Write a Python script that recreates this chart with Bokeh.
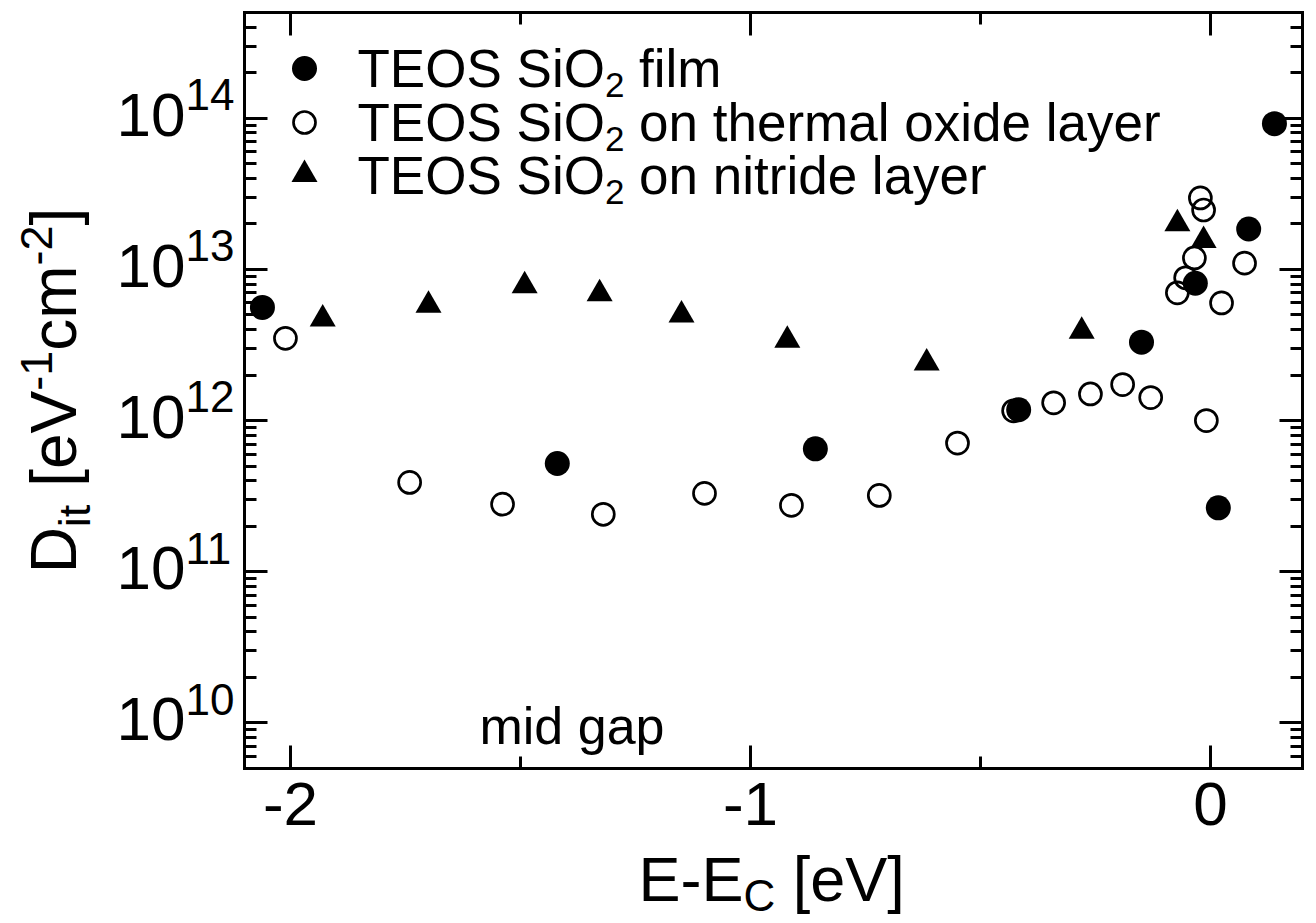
import math
from bokeh.plotting import figure
from bokeh.models import Range1d, LinearAxis, LogAxis, FixedTicker, Label
from bokeh.embed import file_html
from bokeh.resources import INLINE

# ---------------- data ----------------
film_x = [-2.061, -1.420, -0.859, -0.417, -0.150, -0.033, 0.017, 0.083, 0.139]
film_y = [5.6e12, 5.2e11, 6.5e11, 1.18e12, 3.3e12, 8.1e12, 2.65e11, 1.85e13, 9.2e13]

oxide_x = [-2.011, -1.741, -1.539, -1.320, -1.100, -0.911, -0.720, -0.550, -0.428,
           -0.341, -0.261, -0.191, -0.130, -0.072, -0.054, -0.035, -0.022, -0.015,
           -0.009, 0.024, 0.074]
oxide_y = [3.5e12, 3.9e11, 2.8e11, 2.4e11, 3.3e11, 2.75e11, 3.2e11, 7.1e11, 1.16e12,
           1.31e12, 1.5e12, 1.73e12, 1.42e12, 7.0e12, 8.8e12, 1.19e13, 2.97e13, 2.47e13,
           1.0e12, 6.0e12, 1.1e13]

nitride_x = [-1.930, -1.700, -1.491, -1.328, -1.150, -0.920, -0.617, -0.280, -0.072, -0.015]
nitride_y = [4.7e12, 5.8e12, 7.8e12, 6.9e12, 5.0e12, 3.4e12, 2.4e12, 3.9e12, 2.0e13, 1.55e13]

x_major = [-2, -1, 0]
x_minor = [-1.5, -0.5]
x_tick_labels = ["-2", "-1", "0"]
y_decades = [10, 11, 12, 13, 14]

legend_parts = [
    ("TEOS SiO", "2", " film"),
    ("TEOS SiO", "2", " on thermal oxide layer"),
    ("TEOS SiO", "2", " on nitride layer"),
]
midgap_text = "mid gap"

# ---------------- layout ----------------
W, H = 1316, 923
FL, FR, FT, FB = 244, 1302, 12, 768          # plot box edges in pixels
XMIN, XMAX = -2.1, 0.2
YMIN, YMAX = 5e9, 5e14
LT, LB = math.log10(YMAX), math.log10(YMIN)
KX = (FR - FL) / (XMAX - XMIN)
KY = (FB - FT) / (LT - LB)
CX0, CX1 = XMIN - FL / KX, XMAX + (W - FR) / KX   # canvas-wide ranges
CLT = LT + FT / KY
CLB = CLT - H / KY
FONT = "Liberation Sans"
BASE_FIX = 0.38   # Label draws the baseline this many em lower than asked

ADV = {'D': 722, 'i': 222, 't': 278, ' ': 278, '[': 278, 'e': 556, 'V': 667, '-': 333,
       '1': 556, 'c': 500, 'm': 833, '2': 556, ']': 278, 'E': 667, 'C': 722, 'T': 611,
       'O': 778, 'S': 667, 'o': 556, 'n': 556, 'h': 556, 'r': 333, 'a': 556, 'l': 222,
       'x': 500, 'd': 556, 'f': 278, 'y': 500, '0': 556, 'g': 556, 'p': 556}


def tw(s, size):
    return sum(ADV.get(ch, 556) for ch in s) / 1000.0 * size


def px2x(px):
    return CX0 + px / KX


def py2y(py):
    return 10 ** (CLT - py / KY)


def x2px(x):
    return (x - CX0) * KX


def y2py(y):
    return (CLT - math.log10(y)) * KY


p = figure(width=W, height=H, x_range=Range1d(CX0, CX1),
           y_range=Range1d(10 ** CLB, 10 ** CLT), y_axis_type="log",
           output_backend="svg", toolbar_location=None, title=None,
           min_border_left=0, min_border_right=0, min_border_top=0,
           min_border_bottom=0)
p.grid.visible = False
p.background_fill_color = "white"
p.border_fill_color = "white"
p.outline_line_color = None

xt = FixedTicker(ticks=x_major, minor_ticks=x_minor)
ymaj = [10.0 ** k for k in y_decades]
ymin_t = [m * 10.0 ** k for k in range(9, 15) for m in range(2, 10)
          if YMIN <= m * 10.0 ** k <= YMAX]
yt = FixedTicker(ticks=ymaj, minor_ticks=ymin_t)


def style_axis(ax, loc, bounds):
    ax.fixed_location = loc
    ax.bounds = bounds
    ax.axis_line_width = 3
    ax.axis_line_color = "black"
    ax.axis_line_cap = "square"
    ax.major_tick_line_width = 3
    ax.minor_tick_line_width = 3
    ax.major_tick_in = 23
    ax.major_tick_out = 0
    ax.minor_tick_in = 12
    ax.minor_tick_out = 0
    ax.major_label_text_font_size = "1px"
    ax.major_label_text_color = None
    ax.major_label_standoff = 0


p.xaxis.ticker = xt
p.yaxis.ticker = yt
for ax in p.xaxis:
    style_axis(ax, YMIN, (XMIN, XMAX))
for ax in p.yaxis:
    style_axis(ax, XMIN, (YMIN, YMAX))

top = LinearAxis(ticker=xt)
style_axis(top, YMAX, (XMIN, XMAX))
p.add_layout(top, "above")
right = LogAxis(ticker=yt)
style_axis(right, XMAX, (YMIN, YMAX))
p.add_layout(right, "right")

# ---------------- data marks ----------------
p.scatter(oxide_x, oxide_y, marker="circle", size=22, fill_color=None,
          line_color="black", line_width=2.7)
p.scatter(nitride_x, nitride_y, marker="triangle", size=26, fill_color="black",
          line_color=None)
p.scatter(film_x, film_y, marker="circle", size=25, fill_color="black",
          line_color=None)


def label(px, py, text, size, align="left", vertical=False):
    """px, py: anchor of the text's baseline start (pixels from top-left)."""
    if vertical:
        px -= BASE_FIX * size
    else:
        py -= BASE_FIX * size
    p.add_layout(Label(x=px2x(px), y=py2y(py), text=text, text_font=FONT,
                       text_font_size=f"{size}px", text_color="black",
                       text_align=align, text_baseline="alphabetic",
                       angle=(math.pi / 2 if vertical else 0.0), angle_units="rad"))


def run(x, y, pieces, vertical=False):
    """pieces: (text, size, shift) drawn one after another; shift moves the baseline
    down (positive) for subscripts / up (negative) for superscripts."""
    for text, size, shift in pieces:
        lead = len(text) - len(text.lstrip(" "))
        start = x + tw(" " * lead, size) * (-1 if vertical else 1)
        body = text.strip(" ")
        if vertical:
            label(y + shift, start, body, size, vertical=True)
            x -= tw(text, size)
        else:
            label(start, y + shift, body, size)
            x += tw(text, size)


# x tick labels
XT_FS = 62
for t, s in zip(x_major, x_tick_labels):
    label(x2px(t), 827, s, XT_FS, align="center")

# y tick labels 10^k
YT_FS, YE_FS = 62, 44
for k in y_decades:
    ty = y2py(10.0 ** k)
    label(185, ty + 20, "10", YT_FS, align="right")
    label(185, ty - 7, str(k), YE_FS, align="left")

# x axis label  E-E_C [eV]
XL_FS, XS_FS = 63, 44
run(638, 902, [("E-E", XL_FS, 0), ("C", XS_FS, 10), (" [eV]", XL_FS, 0)])

# y axis label  D_it [eV^-1 cm^-2]  (rotated, reads bottom to top)
YL_FS, YS_FS = 64, 45
ypieces = [("D", YL_FS, 0), ("it", YS_FS, 13), (" [eV", YL_FS, 0), ("-1", YS_FS, -25),
           ("cm", YL_FS, 0), ("-2", YS_FS, -25), ("]", YL_FS, 0)]
total = sum(tw(s, f) for s, f, _ in ypieces)
run((FT + FB) / 2 + total / 2, 78, ypieces, vertical=True)

# mid gap annotation
label(479, 745, midgap_text, 52)

# ---------------- legend ----------------
LG_FS, LS_FS = 53, 35
leg_px = 304
leg_rows = [88, 142, 195]
marker_py = [68, 122, 174]
p.scatter([px2x(leg_px)], [py2y(marker_py[0])], marker="circle", size=25,
          fill_color="black", line_color=None)
p.scatter([px2x(leg_px)], [py2y(marker_py[1])], marker="circle", size=22,
          fill_color=None, line_color="black", line_width=2.7)
p.scatter([px2x(leg_px)], [py2y(marker_py[2])], marker="triangle", size=26,
          fill_color="black", line_color=None)
for (a, sub, b), base in zip(legend_parts, leg_rows):
    run(357, base, [(a, LG_FS, 0), (sub, LS_FS, 10), (b, LG_FS, 0)])

open("out.html", "w").write(file_html(p, INLINE))
